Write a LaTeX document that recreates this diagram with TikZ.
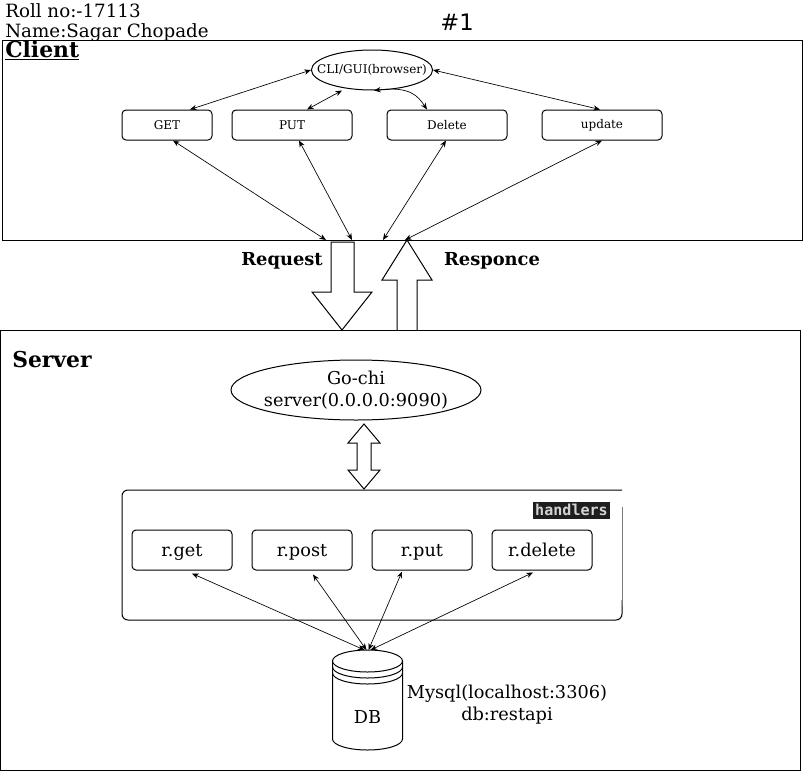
\documentclass[tikz,border=0pt]{standalone}
\usepackage{fontspec}
\setmainfont{DejaVu Serif}
\newfontfamily\hashfont{DejaVu Sans}
\newfontfamily\codefont{DejaVu Sans Mono}
\usepackage{tikz}
\usetikzlibrary{calc,shapes.geometric,arrows.meta}
\definecolor{ink}{HTML}{000000}
\definecolor{codebg}{HTML}{1E1E1E}
\definecolor{codetxt}{HTML}{D4D4D4}
\definecolor{edge}{HTML}{7A7A7A}
\tikzset{
  frame/.style={draw=ink, line width=0.75pt},
  opbox/.style={draw=ink, line width=0.75pt, rounded corners=3pt, fill=white,
    minimum height=22.5pt, inner sep=0pt, font=\fontsize{9}{11}\selectfont},
  handbox/.style={draw=ink, line width=0.75pt, rounded corners=3pt, fill=white,
    minimum width=75pt, minimum height=30pt, inner sep=0pt, text height=12pt,
    text depth=2.5pt, font=\fontsize{13.3}{15}\selectfont},
  oval/.style={draw=ink, line width=0.75pt, ellipse, inner sep=0pt},
  link/.style={<->, >={Stealth[length=5pt,width=4pt]}, line width=0.5pt},
  blockarrow/.style={draw=ink, line width=0.75pt, fill=white},
  big/.style={font=\fontsize{13.3}{16.5}\selectfont},
  head/.style={font=\bfseries\fontsize{16.4}{18}\selectfont}
}

\begin{document}
\begin{tikzpicture}[x=0.75pt,y=-0.75pt]
  \useasboundingbox (0,0) rectangle (803,771);

  % header
  \node[font=\fontsize{13.7}{15}\selectfont, anchor=north west, align=left, inner sep=0pt]
    (info) at (5,3) {Roll no:-17113\\Name:Sagar Chopade};
  \node[font=\hashfont\fontsize{17}{20}\selectfont] (num) at (457,22) {\#1};

  % client side
  \draw[frame] (2,40) rectangle (802,240);
  \node[head, anchor=base west, inner sep=0pt] (client) at (5,57) {\underline{Client}};

  \node[oval, minimum width=90pt, minimum height=30pt, inner xsep=-9pt,
    font=\fontsize{9}{11}\selectfont] (cli) at (372,70) {CLI/GUI(browser)};
  \node[opbox, minimum width=67.5pt] (get) at (167,125) {GET};
  \node[opbox, minimum width=90pt] (put) at (292,125) {PUT};
  \node[opbox, minimum width=90pt] (delete) at (447,125) {Delete};
  \node[opbox, minimum width=90pt] (update) at (602,125) {update};

  \draw[link] (cli.west) -- ($(get.north)+(23,0)$);
  \draw[link] ($(cli.south)+(-30,0)$) -- ($(put.north)+(15,0)$);
  \draw[link] ($(cli.south)+(2,0)$) .. controls (410,86) and (418,96) .. ($(delete.north)+(-20,0)$);
  \draw[link] (cli.east) -- ($(update.north)+(-2,0)$);

  % bottom edge of client box
  \coordinate (c1) at (326,240);
  \coordinate (c2) at (352,240);
  \coordinate (c3) at (383,240);
  \coordinate (c4) at (405,240);
  \draw[link] ($(get.south)+(6,0)$) -- (c1);
  \draw[link] ($(put.south)+(7,0)$) -- (c2);
  \draw[link] ($(delete.south)+(-1,0)$) -- (c3);
  \draw[link] (update.south) -- (c4);

  % request / response
  \draw[blockarrow] (331,242) -- (354,242) -- (354,292) -- (372,292) -- (342,330)
    -- (312,292) -- (331,292) -- cycle;
  \draw[blockarrow] (397,330) -- (397,280) -- (382,280) -- (407,240) -- (432,280)
    -- (417,280) -- (417,330);
  \node[font=\bfseries\fontsize{13.4}{15}\selectfont] (req) at (282,261) {Request};
  \node[font=\bfseries\fontsize{13.4}{15}\selectfont] (resp) at (492,261) {Responce};

  % server side
  \draw[frame] (0,330) rectangle (800,770);
  \node[head, anchor=base west, inner sep=0pt] (server) at (12,367) {Server};

  \node[oval, big, minimum width=187.5pt, minimum height=45pt, inner xsep=-3pt,
    align=center] (gochi) at (356,390) {Go-chi\\server(0.0.0.0:9090)};

  \draw[blockarrow] (364,424) -- (380,443) -- (371,443) -- (371,470) -- (380,470)
    -- (364,489) -- (348,470) -- (357,470) -- (357,443) -- (348,443) -- cycle;

  % handlers group
  \draw[line width=0.75pt, rounded corners=4.5pt] (622,490) -- (122,490) -- (122,620)
    -- (622,620) -- (622,600);
  \draw[edge, line width=0.75pt, rounded corners=4.5pt] (622,606) -- (622,507);
  \node[fill=codebg, text=codetxt, font=\codefont\bfseries\fontsize{11.3}{13}\selectfont,
    inner xsep=1.5pt, inner ysep=2pt] (hlabel) at (571.5,510) {handlers};

  \node[handbox] (rget) at (182,550) {r.get};
  \node[handbox] (rpost) at (302,550) {r.post};
  \node[handbox] (rput) at (422,550) {r.put};
  \node[handbox] (rdelete) at (542,550) {r.delete};

  % database
  \draw[line width=0.75pt, fill=white] (332.5,661) -- (332.5,739)
    arc[start angle=180, end angle=0, x radius=35, y radius=11] -- (402.5,661);
  \draw[line width=0.75pt, fill=white] (367.5,661) ellipse [x radius=35, y radius=11];
  \draw[line width=0.75pt] (332.5,667) arc[start angle=180, end angle=0, x radius=35, y radius=11];
  \draw[line width=0.75pt] (332.5,673) arc[start angle=180, end angle=0, x radius=35, y radius=11];
  \node[big] (db) at (367.5,717) {DB};
  \coordinate (dbtop) at (367.5,650);
  \node[big, align=center] (mysql) at (507,705) {Mysql(localhost:3306)\\db:restapi};

  \draw[link] ($(dbtop)+(-3,0)$) -- ($(rget.south)+(10,3)$);
  \draw[link] ($(dbtop)+(-1,0)$) -- ($(rpost.south)+(11,4)$);
  \draw[link] ($(dbtop)+(1,0)$) -- ($(rput.south)+(-20,1)$);
  \draw[link] ($(dbtop)+(3,0)$) -- ($(rdelete.south)+(-9,2)$);
\end{tikzpicture}
\end{document}
